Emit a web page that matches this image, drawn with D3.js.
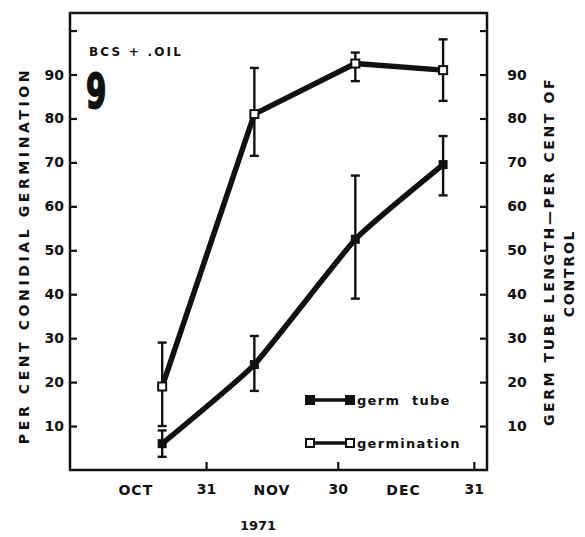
<!DOCTYPE html>
<html>
<head>
<meta charset="utf-8">
<script src="https://cdn.jsdelivr.net/npm/d3@7"></script>
<style>
  body { margin: 0; background: #fff; }
  svg { font-family: "DejaVu Sans", sans-serif; font-weight: bold; }
</style>
</head>
<body>
<div id="chart"></div>
<script>
// sampling dates (1971)
const dates = ["1971-10-21", "1971-11-11", "1971-12-04", "1971-12-24"];
// germination, per cent
const germination = [19, 81, 92.5, 91];
const germinationLow = [10, 71.5, 88.5, 84];
const germinationHigh = [29, 91.5, 95, 98];
// germ tube length, per cent of control
const germTube = [6, 24, 52.5, 69.5];
const germTubeLow = [3, 18, 39, 62.5];
const germTubeHigh = [9, 30.5, 67, 76];

const yTicks = [10, 20, 30, 40, 50, 60, 70, 80, 90, 100];
const xTicks = ["1971-10-31", "1971-11-30", "1971-12-31"];
const months = [["OCT", "1971-10-15"], ["NOV", "1971-11-15"], ["DEC", "1971-12-15"]];

const W = 585, H = 537;
const mLeft = 70, mRight = 487, mTop = 13, mBottom = 470;

const svg = d3.select("#chart").append("svg")
  .attr("width", W).attr("height", H);

const parse = d3.timeParse("%Y-%m-%d");

const x = d3.scaleTime()
  .domain([parse("1971-09-30"), parse("1972-01-03")])
  .range([mLeft, mRight]);
const y = d3.scaleLinear().domain([0, 104]).range([mBottom, mTop]);

// frame
svg.append("rect")
  .attr("x", mLeft).attr("y", mTop)
  .attr("width", mRight - mLeft).attr("height", mBottom - mTop)
  .attr("fill", "none").attr("stroke", "#111").attr("stroke-width", 2.5);

// left axis
const yAxisL = d3.axisLeft(y).tickValues(yTicks).tickSizeInner(-7).tickSizeOuter(0).tickPadding(6)
  .tickFormat(d => d === 100 ? "" : d);
const gl = svg.append("g").attr("transform", `translate(${mLeft},0)`).call(yAxisL);

// right axis
const yAxisR = d3.axisRight(y).tickValues(yTicks).tickSizeInner(-7).tickSizeOuter(0).tickPadding(20)
  .tickFormat(d => d === 100 ? "" : d);
const gr = svg.append("g").attr("transform", `translate(${mRight},0)`).call(yAxisR);

// bottom axis
const xAxis = d3.axisBottom(x).tickValues(xTicks.map(parse)).tickSizeInner(-8).tickSizeOuter(0)
  .tickFormat(d3.timeFormat("%d"));
const gx = svg.append("g").attr("transform", `translate(0,${mBottom})`).call(xAxis);
gx.selectAll("text").attr("dy", "1.1em").attr("y", 9);

[gl, gr, gx].forEach(g => {
  g.select(".domain").remove();
  g.selectAll("line").attr("stroke", "#111").attr("stroke-width", 2.2);
  g.selectAll("text").attr("fill", "#111").attr("font-size", 14)
    .attr("font-family", "DejaVu Sans").attr("font-weight", "bold");
});
gr.selectAll("text").attr("text-anchor", "middle").attr("x", 30);

svg.append("g").selectAll("text").data(months).join("text")
  .attr("x", d => x(parse(d[1]))).attr("y", mBottom + 25)
  .attr("text-anchor", "middle").attr("font-size", 14).attr("letter-spacing", 1).attr("fill", "#111")
  .text(d => d[0]);

svg.append("text").attr("x", 258).attr("y", 530).attr("text-anchor", "middle")
  .attr("font-size", 13).attr("fill", "#111").text("1971");

// axis titles
svg.append("text")
  .attr("transform", `translate(29,${(mTop + mBottom) / 2 + 14}) rotate(-90)`)
  .attr("text-anchor", "middle").attr("font-size", 14).attr("letter-spacing", 3.6)
  .attr("fill", "#111").text("PER CENT CONIDIAL GERMINATION");
svg.append("text")
  .attr("transform", `translate(554,${(mTop + mBottom) / 2 + 10}) rotate(-90)`)
  .attr("text-anchor", "middle").attr("font-size", 14).attr("letter-spacing", 2.6)
  .attr("fill", "#111").text("GERM TUBE LENGTH\u2014PER CENT OF");
svg.append("text")
  .attr("transform", `translate(574,${(mTop + mBottom) / 2 + 32}) rotate(-90)`)
  .attr("text-anchor", "middle").attr("font-size", 14).attr("letter-spacing", 1.8)
  .attr("fill", "#111").text("CONTROL");

// panel labels
svg.append("text").attr("x", 89).attr("y", 56).attr("font-size", 12)
  .attr("letter-spacing", 2.2).attr("fill", "#111").text("BCS + .OIL");
svg.append("text").attr("transform", "translate(86,108) scale(0.75,1.22)")
  .attr("font-size", 39).attr("fill", "#111")
  .attr("stroke", "#111").attr("stroke-width", 1.6).text("9");

// data
const rows = dates.map((d, i) => ({
  date: parse(d),
  g: germination[i], gLo: germinationLow[i], gHi: germinationHigh[i],
  t: germTube[i], tLo: germTubeLow[i], tHi: germTubeHigh[i]
}));

function errorBars(lo, hi) {
  const g = svg.append("g").attr("stroke", "#111").attr("stroke-width", 2.4);
  rows.forEach(r => {
    const cx = x(r.date);
    g.append("line").attr("x1", cx).attr("x2", cx).attr("y1", y(r[lo])).attr("y2", y(r[hi]));
    [lo, hi].forEach(k => g.append("line")
      .attr("x1", cx - 4.5).attr("x2", cx + 4.5).attr("y1", y(r[k])).attr("y2", y(r[k])));
  });
}
errorBars("gLo", "gHi");
errorBars("tLo", "tHi");

svg.append("path").datum(rows)
  .attr("d", d3.line().x(d => x(d.date)).y(d => y(d.g)))
  .attr("fill", "none").attr("stroke", "#111").attr("stroke-width", 5.5).attr("stroke-linejoin", "round");
svg.append("path").datum(rows)
  .attr("d", d3.line().x(d => x(d.date)).y(d => y(d.t)).curve(d3.curveCardinal.tension(0.6)))
  .attr("fill", "none").attr("stroke", "#111").attr("stroke-width", 5.5).attr("stroke-linejoin", "round");

svg.append("g").selectAll("rect").data(rows).join("rect")
  .attr("x", d => x(d.date) - 4).attr("y", d => y(d.g) - 4)
  .attr("width", 8).attr("height", 8)
  .attr("fill", "#fff").attr("stroke", "#111").attr("stroke-width", 2);
svg.append("g").selectAll("rect").data(rows).join("rect")
  .attr("x", d => x(d.date) - 4.5).attr("y", d => y(d.t) - 4.5)
  .attr("width", 9).attr("height", 9).attr("fill", "#111");

// legend
const legend = [["germ  tube", "#111", 400], ["germination", "#fff", 443]];
const lg = svg.append("g");
legend.forEach(([label, fill, ly]) => {
  lg.append("line").attr("x1", 310).attr("x2", 350).attr("y1", ly).attr("y2", ly)
    .attr("stroke", "#111").attr("stroke-width", 3.5);
  [310, 350].forEach(lx => lg.append("rect")
    .attr("x", lx - 4).attr("y", ly - 4).attr("width", 8).attr("height", 8)
    .attr("fill", fill).attr("stroke", "#111").attr("stroke-width", 2));
  lg.append("text").attr("x", 357).attr("y", ly + 5).attr("font-size", 13)
    .attr("letter-spacing", 1.3).attr("fill", "#111").style("white-space", "pre")
    .text(label);
});
</script>
</body>
</html>
